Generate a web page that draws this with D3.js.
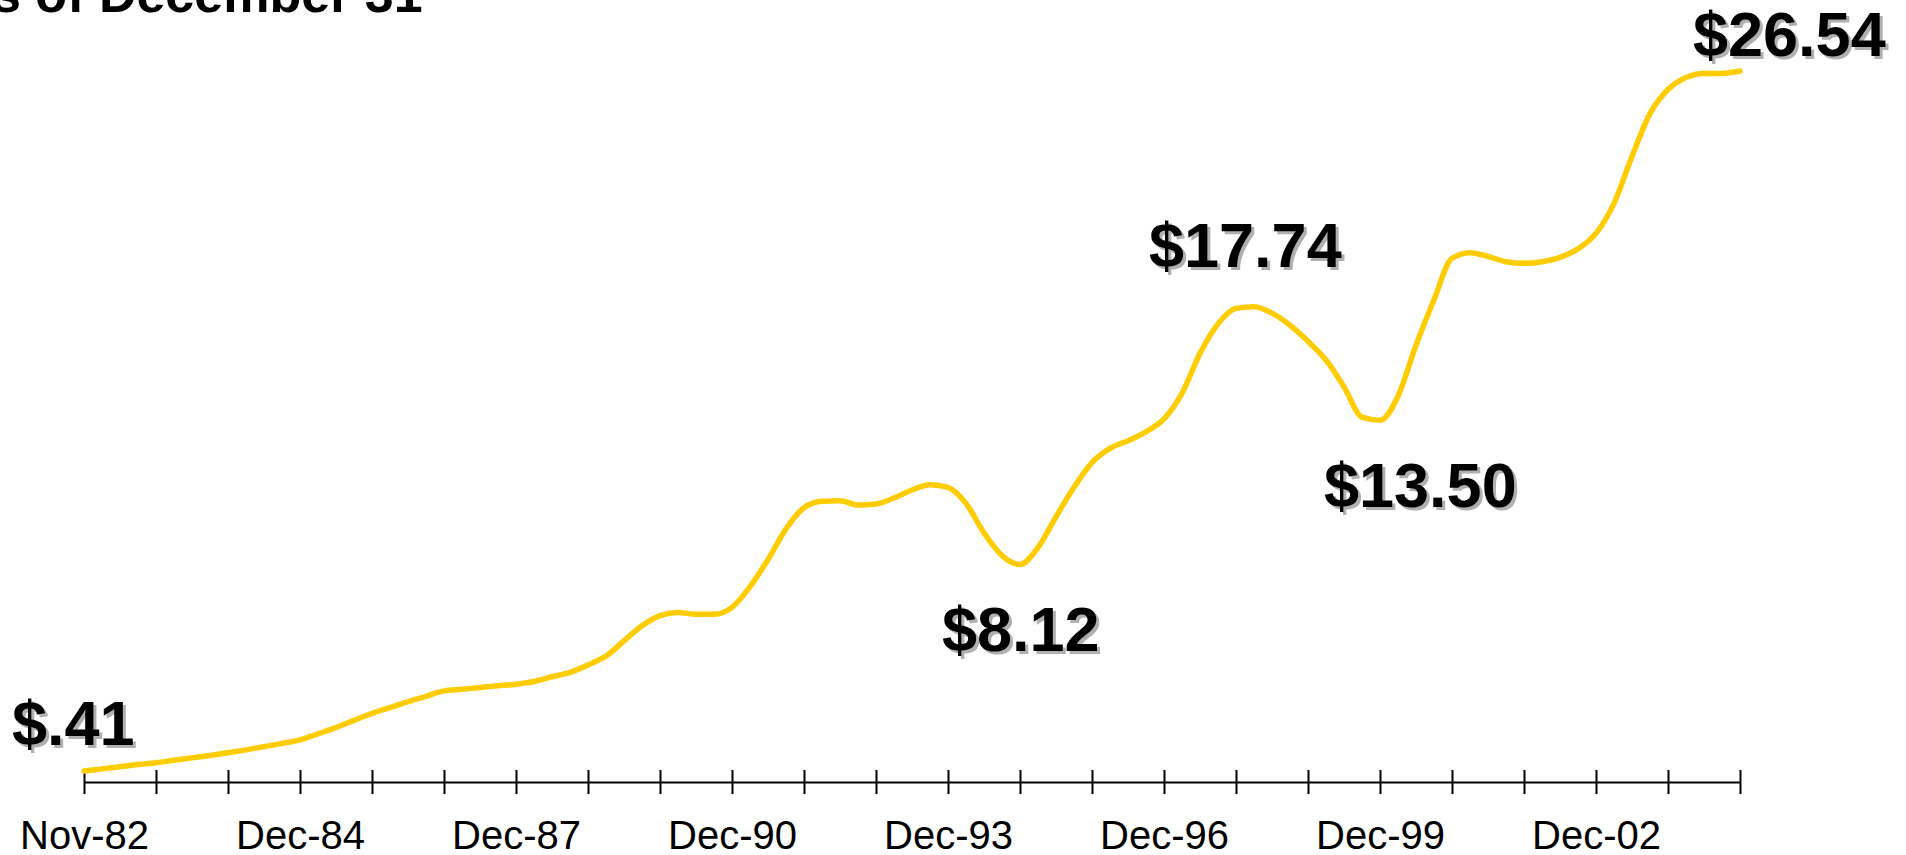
<html lang="en"><head>
<meta http-equiv="Content-Type" content="text/html; charset=UTF-8">
<title>Price chart</title>
<script type="text/javascript" src="https://cdn.jsdelivr.net/npm/d3@7/dist/d3.min.js"></script>
<style type="text/css">
body { margin: 0; background: #fff; }
svg { display: block; }
</style>
</head>
<body>

<script type="text/javascript">

var width = 1906;
var height = 855;

// quarterly points, first = Nov-82, last = $26.54
var prices = [
  0.41, 0.49, 0.57, 0.65, 0.72, 0.81, 0.90, 0.99, 1.09, 1.20,
  1.32, 1.44, 1.57, 1.80, 2.03, 2.30, 2.56, 2.78, 3.00, 3.20,
  3.40, 3.46, 3.53, 3.59, 3.65, 3.75, 3.93, 4.09, 4.37, 4.70,
  5.27, 5.83, 6.21, 6.33, 6.26, 6.26, 6.52, 7.29, 8.30, 9.45,
  10.24, 10.48, 10.50, 10.34, 10.38, 10.60, 10.90, 11.10, 11.00, 10.40,
  9.30, 8.45, 8.12, 8.75, 9.90, 11.00, 11.92, 12.45, 12.74, 13.07,
  13.55, 14.51, 16.00, 17.10, 17.68, 17.74, 17.50, 17.05, 16.45, 15.75,
  14.75, 13.62, 13.50, 14.40, 16.30, 18.00, 19.55, 19.76, 19.62, 19.42,
  19.36, 19.42, 19.58, 19.90, 20.48, 21.60, 23.35, 24.95, 25.85, 26.30,
  26.45, 26.45, 26.54
];

// one tick every 4 points
var tickLabels = ["Nov-82", "", "", "Dec-84", "", "", "Dec-87", "", "", "Dec-90", "", "",
                  "Dec-93", "", "", "Dec-96", "", "", "Dec-99", "", "", "Dec-02", "", ""];

var calloutIdx = [0, 52, 65, 72, 92];
var calloutText = ["$.41", "$8.12", "$17.74", "$13.50", "$26.54"];

var svg = d3.select("body")
            .append("svg")
            .attr("width", width)
            .attr("height", height);

var x = d3.scaleLinear()
  .domain([0, prices.length - 1])
  .range([84, 1740]);

var y = d3.scaleLinear()
  .domain([0, 29.19])
  .range([782, 0]);

// cut-off title at the very top
svg.append("text")
  .attr("x", -8)
  .attr("y", 12)
  .attr("font-family", "Liberation Sans, Arial, sans-serif")
  .attr("font-weight", "bold")
  .attr("font-size", 52)
  .attr("fill", "black")
  .text("s of December 31");

// x axis, ticks cross the line
var axis = d3.axisBottom(x)
  .tickValues(d3.range(0, prices.length, 4))
  .tickSizeInner(12)
  .tickSizeOuter(0)
  .tickFormat(function(d){ return tickLabels[d / 4]; });

var gx = svg.append("g")
  .attr("transform", "translate(0," + y(0) + ")")
  .call(axis);

gx.select(".domain").attr("stroke", "black").attr("stroke-width", 2);
gx.selectAll(".tick line")
  .attr("y1", -12)
  .attr("y2", 12)
  .attr("stroke", "black")
  .attr("stroke-width", 2);
gx.selectAll(".tick text")
  .attr("y", 67)
  .attr("dy", 0)
  .attr("fill", "black")
  .attr("font-family", "Liberation Sans, Arial, sans-serif")
  .attr("font-size", 40);

var line = d3.line()
  .x(function(d, i){ return x(i); })
  .y(function(d){ return y(d); })
  .curve(d3.curveMonotoneX);

svg.append("path")
  .datum(prices)
  .attr("fill", "none")
  .attr("stroke", "#ffcc00")
  .attr("stroke-width", 5.5)
  .attr("stroke-linejoin", "round")
  .attr("stroke-linecap", "round")
  .attr("d", line);

// where each callout sits relative to its point
var calloutOffset = [[-72, -26], [-78, 87], [-105, -40], [-56, 87], [-47, -15]];

var callouts = svg.selectAll(".callout")
  .data(calloutIdx).enter()
  .append("g")
  .attr("class", "callout")
  .attr("transform", function(d, k){
    return "translate(" + (x(d) + calloutOffset[k][0]) + "," + (y(prices[d]) + calloutOffset[k][1]) + ")";
  });

callouts.append("text")
  .attr("x", 3)
  .attr("y", 3)
  .attr("fill", "#b0b0b0")
  .text(function(d, k){ return calloutText[k]; });

callouts.append("text")
  .attr("fill", "black")
  .text(function(d, k){ return calloutText[k]; });

callouts.selectAll("text")
  .attr("font-family", "Liberation Sans, Arial, sans-serif")
  .attr("font-weight", "bold")
  .attr("font-size", 63);

</script>
</body></html>
